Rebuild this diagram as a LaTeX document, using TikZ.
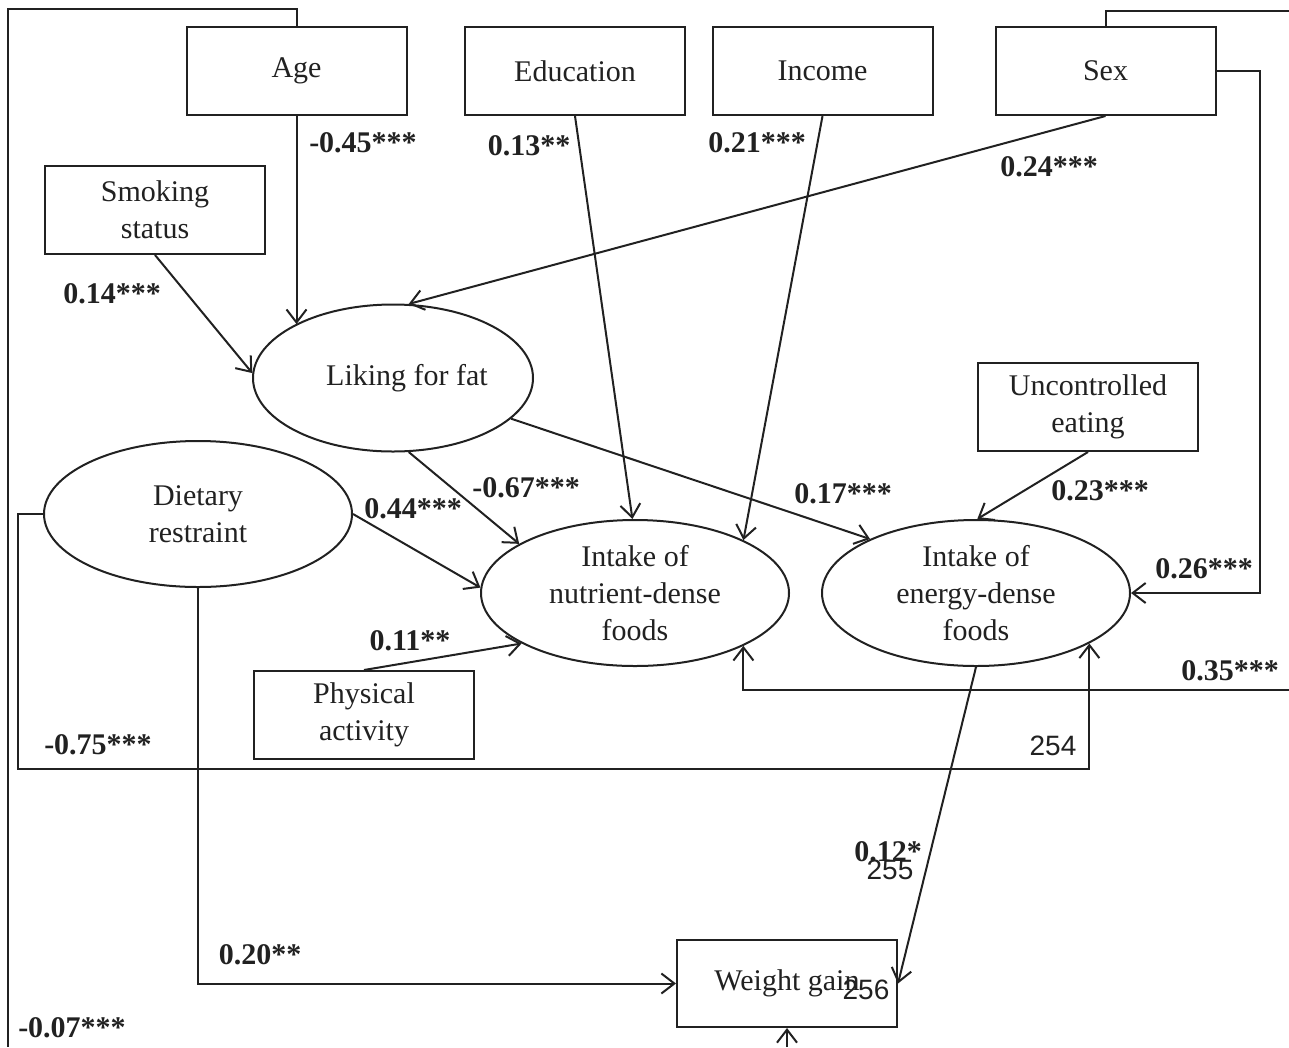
\documentclass[tikz,border=0pt]{standalone}
\usepackage{fontspec}
\setmainfont{Liberation Serif}
\setsansfont{Liberation Sans}
\usetikzlibrary{arrows.meta,calc,shapes.geometric}
\newcommand\mysize{\fontsize{30}{37}\selectfont}
\definecolor{ink}{gray}{0.13}
\begin{document}
\begin{tikzpicture}[x=1pt,y=-1pt,line width=2pt,draw=ink,text=ink,
  box/.style={draw,rectangle,minimum width=220pt,minimum height=88pt,inner sep=0pt,align=center,font=\mysize},
  ell/.style={draw,ellipse,minimum width=308pt,minimum height=146pt,inner sep=0pt,align=center,font=\mysize},
  lab/.style={font=\mysize\bfseries,inner sep=0pt},
  num/.style={font=\sffamily\fontsize{28}{30}\selectfont,inner sep=0pt},
  arr/.style={-{Straight Barb[length=13pt,width=20pt]}}]
\useasboundingbox (0,0) rectangle (1289,1047);
% boxes
\node[box] (age) at (296.5,71) {Age};
\node[box] (edu) at (575,71) {Education};
\node[box] (inc) at (822.5,71) {Income};
\node[box] (sex) at (1105.5,71) {Sex};
\node[box] (smk) at (155,210) {Smoking\\status};
\node[box] (unc) at (1088,407) {Uncontrolled\\eating};
\node[box] (phy) at (364,715) {Physical\\activity};
\node[box,minimum height=87pt] (wg) at (787,983.5) {Weight gain};
% ellipses
\node[ell,minimum width=280pt,minimum height=147pt] (lik) at (393,378) {\hspace*{28pt}Liking for fat};
\node[ell] (diet) at (198,514) {Dietary\\restraint};
\node[ell] (nut) at (635,593) {Intake of\\nutrient-dense\\foods};
\node[ell] (ene) at (976,593) {Intake of\\energy-dense\\foods};
% helper coordinates
\coordinate (tl) at (8,9);
\coordinate (bl) at (8,1047);
\coordinate (tr) at (1289,11);
\coordinate (sx) at (1260,71);
\coordinate (r35) at (1289,690);
\coordinate (dl) at (18,769);
% connectors
\draw[arr] (age.south) -- (age.south |- lik.151);
\draw[arr] (edu.south) -- (nut.92);
\draw[arr] (inc.south) -- (nut.26);
\draw[arr] (sex.south) -- (lik.78);
\draw[arr] (smk.south) -- (lik.178);
\draw[arr] (lik.-78) -- (nut.157);
\draw[arr] (lik.-19) -- (ene.153);
\draw[arr] (diet.east) -- (nut.178);
\draw[arr] (phy.north) -- (nut.204);
\draw[arr] (unc.south) -- (ene.89);
\draw[arr] (sex.east) -- (sx) -- (sx |- ene.east) -- (ene.east);
\draw[arr] (r35) -- (r35 -| nut.-26) -- (nut.-26);
\draw[arr] (diet.west) -- (diet.west -| dl) -- (dl) -- (dl -| ene.-24) -- (ene.-24);
\draw[arr] (ene.south) -- (wg.east);
\draw[arr] (diet.south) -- (diet.south |- wg.west) -- (wg.west);
\draw (age.north) -- (age.north |- tl) -- (tl) -- (bl);
\draw (sex.north) -- (sex.north |- tr) -- (tr);
\draw[arr] (wg.south |- bl) -- (wg.south);
% labels
\node[lab] (l1) at (363,143) {-0.45***};
\node[lab] (l2) at (529,146) {0.13**};
\node[lab] (l3) at (757,143) {0.21***};
\node[lab] (l4) at (1049,167) {0.24***};
\node[lab] (l5) at (112,294) {0.14***};
\node[lab] (l6) at (526,488) {-0.67***};
\node[lab] (l7) at (413,509) {0.44***};
\node[lab] (l8) at (843,494) {0.17***};
\node[lab] (l9) at (1100,491) {0.23***};
\node[lab] (l10) at (1204,569) {0.26***};
\node[lab] (l11) at (410,641) {0.11**};
\node[lab] (l12) at (1230,671) {0.35***};
\node[lab] (l13) at (98,745) {-0.75***};
\node[lab] (l14) at (888,852) {0.12*};
\node[lab] (l15) at (260,955) {0.20**};
\node[lab] (l16) at (72,1028) {-0.07***};
\node[num] (n1) at (1053,746) {254};
\node[num] (n2) at (890,870) {255};
\node[num] (n3) at (866,990) {256};
\end{tikzpicture}
\end{document}
